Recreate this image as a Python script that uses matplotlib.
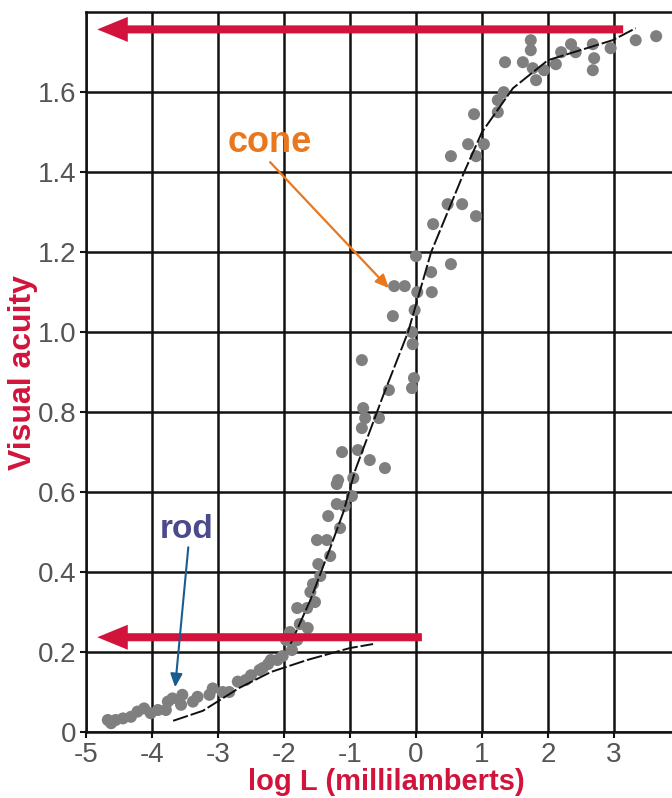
import matplotlib.pyplot as plt

plt.rcParams['font.family'] = ['Liberation Sans', 'DejaVu Sans']

# ----------------------------------------
# data
# ----------------------------------------

# measured points (log L, visual acuity)
acuity_x = [1.74, 1.74, 1.35, 1.62, 1.77, 1.94, 1.82, 2.12, 2.20, 2.35, 2.42, 2.68, 2.70, 2.68,
            2.95, 3.33, 3.64, 1.33, 1.24, 1.24, 0.88, 1.03, 0.79, 0.91, 0.53, 0.48, 0.70, 0.91,
            0.26, 0.00, 0.53, 0.23, -0.33, -0.17, 0.02, 0.24, -0.02, -0.35, -0.06, -0.05, -0.82,
            -0.03, -0.06, -0.41,
            -0.80, -0.77, -0.56, -0.82, -1.12, -0.88, -0.70, -0.47, -1.18, -0.95,
            -1.20, -0.97, -1.20, -1.08, -1.33, -1.15, -1.50, -1.35, -1.30, -1.48, -1.45, -1.56,
            -1.60, -1.53, -1.80, -1.65, -1.76, -1.64, -1.91, -1.80, -1.88, -2.02, -2.10, -2.24,
            -2.32,
            -1.97, -2.20, -2.37, -2.50, -2.58, -2.70, -2.83, -2.93, -3.08, -3.13, -3.31, -3.38,
            -3.54, -3.56, -3.69, -3.76, -3.79, -3.91, -4.02, -4.12, -4.22, -4.32, -4.44, -4.55,
            -4.62, -4.67]
acuity_y = [1.73, 1.705, 1.675, 1.675, 1.66, 1.655, 1.63, 1.67, 1.70, 1.72, 1.70, 1.72, 1.685, 1.655,
            1.71, 1.73, 1.74, 1.60, 1.58, 1.55, 1.545, 1.47, 1.47, 1.44, 1.44, 1.32, 1.32, 1.29,
            1.27, 1.19, 1.17, 1.15, 1.115, 1.115, 1.10, 1.10, 1.055, 1.04, 1.00, 0.97, 0.93,
            0.885, 0.86, 0.855,
            0.81, 0.785, 0.785, 0.76, 0.70, 0.705, 0.68, 0.66, 0.63, 0.635,
            0.62, 0.59, 0.57, 0.565, 0.54, 0.51, 0.48, 0.48, 0.44, 0.42, 0.39, 0.37,
            0.35, 0.325, 0.31, 0.31, 0.27, 0.26, 0.25, 0.23, 0.205, 0.19, 0.18, 0.17,
            0.16,
            0.23, 0.18, 0.155, 0.142, 0.13, 0.126, 0.10, 0.10, 0.109, 0.093, 0.088, 0.076,
            0.093, 0.068, 0.084, 0.076, 0.055, 0.055, 0.047, 0.059, 0.051, 0.038, 0.034, 0.03,
            0.022, 0.03]

# fitted curves
cone_curve_x = [-1.9, -1.6, -1.3, -1.1, -0.92, -0.5, -0.12, 0.23, 0.73, 1.0, 1.47, 2.0, 2.98, 3.33]
cone_curve_y = [0.22, 0.33, 0.46, 0.55, 0.655, 0.84, 1.0, 1.2, 1.4, 1.5, 1.61, 1.68, 1.73, 1.76]
rod_curve_x = [-3.68, -3.23, -2.68, -2.2, -1.65, -1.0, -0.65]
rod_curve_y = [0.028, 0.053, 0.11, 0.15, 0.18, 0.21, 0.22]

# plateau arrows: (level, from x, to x)
cone_max = (1.757, 3.14, -4.83)
rod_max = (0.237, 0.09, -4.83)

x_ticks = [-5, -4, -3, -2, -1, 0, 1, 2, 3]
x_tick_labels = ['-5', '-4', '-3', '-2', '-1', '0', '1', '2', '3']
y_ticks = [0, 0.2, 0.4, 0.6, 0.8, 1.0, 1.2, 1.4, 1.6]
y_tick_labels = ['0', '0.2', '0.4', '0.6', '0.8', '1.0', '1.2', '1.4', '1.6']

red = '#D2143C'
orange = '#E8771E'
rod_text = '#4A4A8C'
rod_arrow = '#1B5C8E'

# ----------------------------------------
# plot
# ----------------------------------------
fig = plt.figure(figsize=(6.72, 7.98), dpi=100)
ax = fig.add_axes([0.128, 0.0827, 0.872, 0.902])
ax.set_xlim(-5, 3.88)
ax.set_ylim(0, 1.8)

ax.set_xticks(x_ticks)
ax.set_xticklabels(x_tick_labels)
ax.set_yticks(y_ticks)
ax.set_yticklabels(y_tick_labels)
ax.tick_params(labelsize=20, labelcolor='#555555', color='#111111', length=4, width=1.5, pad=3)
ax.grid(True, color='#111111', lw=1.8)
ax.set_axisbelow(True)
for side in ['left', 'bottom', 'top']:
    ax.spines[side].set_linewidth(1.8)
    ax.spines[side].set_color('#111111')
ax.spines['right'].set_visible(False)

ax.scatter(acuity_x, acuity_y, s=75, color='#7f7f7f', edgecolors='none', zorder=3)
ax.plot(cone_curve_x, cone_curve_y, color='#111111', lw=1.4, ls=(0, (8, 1.5)), zorder=4)
ax.plot(rod_curve_x, rod_curve_y, color='#111111', lw=1.4, ls=(0, (8, 1.5)), zorder=4)

# red plateau arrows
for level, x0, x1 in [cone_max, rod_max]:
    ax.annotate('', xy=(x1, level), xytext=(x0, level),
                arrowprops=dict(width=5.8, headwidth=18, headlength=22, shrink=0,
                                facecolor=red, edgecolor='none', lw=0), zorder=5)

# labels with pointers
ax.text(-2.21, 1.45, 'cone', fontsize=26, fontweight='bold', color=orange,
        ha='center', va='baseline', zorder=6)
ax.annotate('', xy=(-0.41, 1.11), xytext=(-2.21, 1.425),
            arrowprops=dict(arrowstyle='-|>,head_length=0.4,head_width=0.18', color=orange,
                            lw=1.6, shrinkA=0, shrinkB=0, mutation_scale=20), zorder=6)
ax.text(-3.48, 0.485, 'rod', fontsize=24, fontweight='bold', color=rod_text,
        ha='center', va='baseline', zorder=6)
ax.annotate('', xy=(-3.65, 0.112), xytext=(-3.45, 0.462),
            arrowprops=dict(arrowstyle='-|>,head_length=0.4,head_width=0.18', color=rod_arrow,
                            lw=1.5, shrinkA=0, shrinkB=0, mutation_scale=20), zorder=6)

ax.set_xlabel('log L (millilamberts)', fontsize=21, fontweight='bold', color=red)
ax.xaxis.set_label_coords(0.512, -0.05)
ax.set_ylabel('Visual acuity', fontsize=23, fontweight='bold', color=red)
ax.yaxis.set_label_coords(-0.082, 0.499)

fig.savefig('out.png', dpi=100)
